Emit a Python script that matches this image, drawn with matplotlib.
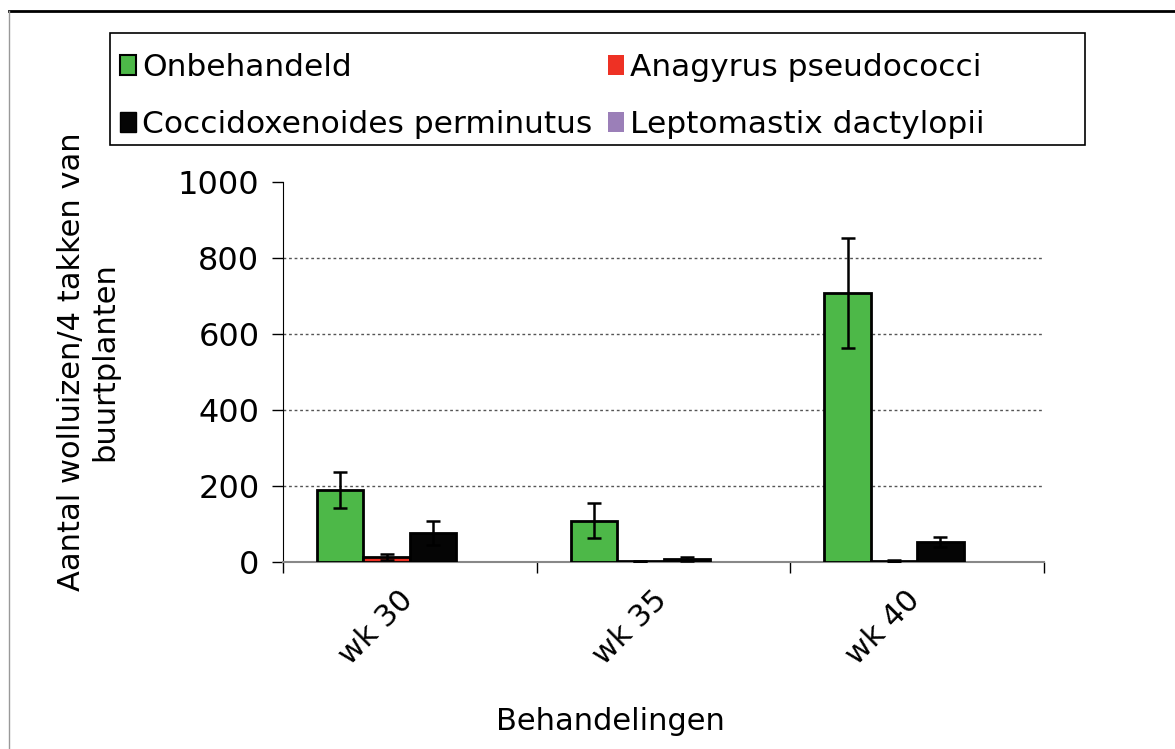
import matplotlib
matplotlib.use("Agg")
import matplotlib.pyplot as plt
from matplotlib.patches import Patch, Rectangle
from matplotlib.lines import Line2D
from matplotlib.transforms import ScaledTranslation
import numpy as np

categories = ["wk 30", "wk 35", "wk 40"]
series_names = ["Onbehandeld", "Anagyrus pseudococci", "Coccidoxenoides perminutus", "Leptomastix dactylopii"]
onbehandeld = [189, 109, 708]
onbehandeld_err = [48, 46, 145]
anagyrus = [13, 2, 3]
anagyrus_err = [7, 1, 3]
coccidoxenoides = [77, 8, 53]
coccidoxenoides_err = [31, 5, 13]
leptomastix = [0, 0, 0]
leptomastix_err = [0, 0, 0]
yticks = [0, 200, 400, 600, 800, 1000]

colors = ["#4DB848", "#EE3124", "#050505", "#9B7FB8"]

plt.rcParams['font.family'] = ['DejaVu Sans']

fig = plt.figure(figsize=(11.75, 7.49), dpi=100)
ax = fig.add_axes([283/1175, 1-562/749, (1044-283)/1175, (562-182)/749])

x = np.arange(len(categories))
w = 0.183
values = [onbehandeld, anagyrus, coccidoxenoides, leptomastix]
errs = [onbehandeld_err, anagyrus_err, coccidoxenoides_err, leptomastix_err]
for i, (v, e, c) in enumerate(zip(values, errs, colors)):
    pos = x + (i - 1.5) * w
    v = np.asarray(v, dtype=float)
    e = np.asarray(e, dtype=float)
    lw = [2 if val > 0 else 0 for val in v]
    ax.bar(pos, v, width=w, color=c, edgecolor="black", linewidth=lw, zorder=3)
    m = e > 0
    if m.any():
        ax.errorbar(pos[m], v[m], yerr=e[m], fmt="none", ecolor="black", elinewidth=1.8,
                    capsize=5, capthick=1.8, zorder=4)

ax.set_xlim(-0.5, 2.5)
ax.set_ylim(0, 1000)
ax.set_yticks(yticks)
ax.tick_params(axis='y', labelsize=23, length=8, width=1, pad=9, direction='out')
for yv in yticks[1:-1]:
    ax.axhline(yv, linestyle=(0, (2, 2)), color="#555555", linewidth=1, zorder=0)
ax.set_xticks(x)
ax.set_xticklabels(categories, rotation=45, ha='right', fontsize=22)
ax.tick_params(axis='x', which='major', length=0, pad=17)
off = ScaledTranslation(9/100, 0, fig.dpi_scale_trans)
for lab in ax.get_xticklabels():
    lab.set_transform(lab.get_transform() + off)
ax.set_xticks([-0.5, 0.5, 1.5, 2.5], minor=True)
ax.tick_params(axis='x', which='minor', length=8, width=1, direction='out')
for s in ["top", "right"]:
    ax.spines[s].set_visible(False)
ax.spines["left"].set_color("black")
ax.spines["bottom"].set_color("#888888")
ax.spines["bottom"].set_linewidth(1.5)
ax.set_axisbelow(True)

fig.text(88/1175, 1-362/749, "Aantal wolluizen/4 takken van\nbuurtplanten", rotation=90,
         ha='center', va='center', fontsize=22, multialignment='center')
fig.text(610/1175, 1-722/749, "Behandelingen", ha='center', va='center', fontsize=22)

handles = [Patch(facecolor=colors[0], edgecolor="black", linewidth=1.5),
           Patch(facecolor=colors[2], edgecolor="black", linewidth=1),
           Patch(facecolor=colors[1], edgecolor="none"),
           Patch(facecolor=colors[3], edgecolor="none")]
labels = [series_names[0], series_names[2], series_names[1], series_names[3]]
leg = fig.legend(handles, labels, ncol=2,
                 bbox_to_anchor=(114/1175, 1-47/749),
                 loc='upper left', fontsize=22.5, frameon=False,
                 handlelength=0.5, handleheight=0.6,
                 handletextpad=0.2, columnspacing=0.5, borderaxespad=0,
                 borderpad=0.2, labelspacing=0.9)

fig.add_artist(Rectangle((110/1175, 1-145/749), 975/1175, 112/749, transform=fig.transFigure,
                         facecolor="none", edgecolor="black", linewidth=1.2))
fig.add_artist(Line2D([9/1175, 1], [1-11/749, 1-11/749], color="black", linewidth=2, transform=fig.transFigure))
fig.add_artist(Line2D([9/1175, 9/1175], [0, 1-11/749], color="#999999", linewidth=1, transform=fig.transFigure))

fig.savefig("out.png", dpi=100)
